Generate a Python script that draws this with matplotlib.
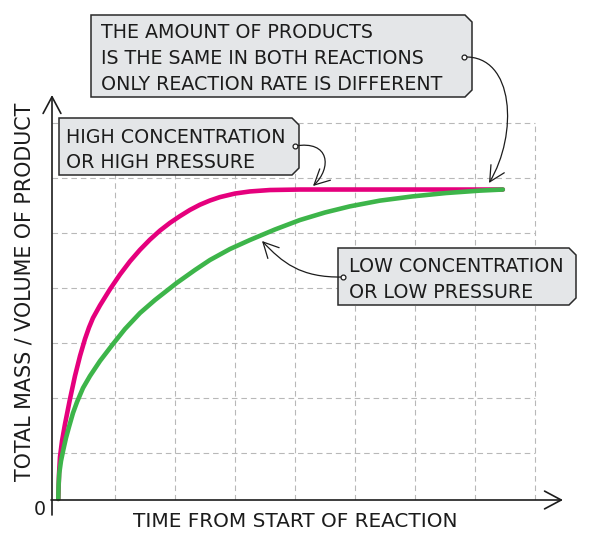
# Reaction rate sketch: product formed over time, high vs low concentration/pressure.
import matplotlib
matplotlib.use("Agg")
import matplotlib.pyplot as plt
import matplotlib.transforms as mtransforms
from matplotlib.lines import Line2D
from matplotlib.patches import Polygon, FancyArrowPatch
from matplotlib.path import Path

W, H = 593, 533

# grid lines, in grid units
time_grid = [1, 2, 3, 4, 5, 6, 7, 8]
mass_grid = [1, 2, 3, 4, 5, 6, 7]

# curves (grid units)
high_t = [0.055, 0.067, 0.083, 0.117, 0.167, 0.25, 0.333, 0.417, 0.5, 0.567,
          0.633, 0.75, 0.917, 1.083, 1.25, 1.417, 1.583, 1.75, 1.917, 2.083,
          2.25, 2.417, 2.583, 2.75, 3.0, 3.25, 3.583, 4.083, 7.467]
high_m = [0.164, 0.618, 0.927, 1.218, 1.527, 1.982, 2.4, 2.764, 3.073, 3.282,
          3.455, 3.684, 3.978, 4.245, 4.485, 4.695, 4.88, 5.044, 5.185, 5.307,
          5.42, 5.515, 5.591, 5.653, 5.718, 5.756, 5.782, 5.791, 5.791]
low_t = [0.055, 0.06, 0.072, 0.1, 0.138, 0.183, 0.233, 0.3, 0.367, 0.467,
         0.583, 0.75, 0.967, 1.167, 1.417, 1.667, 2.028, 2.333, 2.583, 2.917,
         3.25, 3.667, 4.083, 4.5, 4.917, 5.417, 5.967, 6.517, 7.083, 7.467]
low_m = [0.164, 0.418, 0.636, 0.855, 1.055, 1.273, 1.473, 1.727, 1.927, 2.182,
         2.4, 2.673, 2.982, 3.255, 3.545, 3.782, 4.091, 4.327, 4.509, 4.709,
         4.873, 5.064, 5.236, 5.373, 5.485, 5.589, 5.667, 5.727, 5.771, 5.791]

x_label = "TIME FROM START OF REACTION"
y_label = "TOTAL MASS / VOLUME OF PRODUCT"
note_same = ["THE AMOUNT OF PRODUCTS", "IS THE SAME IN BOTH REACTIONS",
             "ONLY REACTION RATE IS DIFFERENT"]
note_high = ["HIGH CONCENTRATION", "OR HIGH PRESSURE"]
note_low = ["LOW CONCENTRATION", "OR LOW PRESSURE"]

PINK = "#e5007d"
GREEN = "#3db54a"
INK = "#1c1c1c"
BOX_FILL = "#e4e6e8"
GRID = "#b8b8b8"
FS = 13.7

fig = plt.figure(figsize=(W / 100, H / 100), dpi=100)
ax = fig.add_axes([52 / W, (H - 500) / H, (563 - 52) / W, (500 - 95) / H])
ax.set_xlim(-0.05, 8.47)
ax.set_ylim(0.145, 7.51)
ax.axis("off")

# pixel coords, origin top-left of the picture
PX = mtransforms.Affine2D().scale(1 / W, -1 / H).translate(0, 1) + fig.transFigure

ax.hlines(mass_grid, -0.05, time_grid[-1], color=GRID, lw=0.8, linestyles=(0, (5, 3.5)))
ax.vlines(time_grid, 0.145, mass_grid[-1], color=GRID, lw=0.8, linestyles=(0, (5, 3.5)))

ax.plot(high_t, high_m, color=PINK, lw=3.3, solid_capstyle="round",
        solid_joinstyle="round", clip_on=False, zorder=3)
ax.plot(low_t, low_m, color=GREEN, lw=3.3, solid_capstyle="round",
        solid_joinstyle="round", clip_on=False, zorder=4)

# axes with open arrow heads
axis_style = "->,head_length=0.6,head_width=0.32"
for a, b in [((52, 515), (52, 95)), ((51, 500), (563, 500))]:
    fig.patches.append(FancyArrowPatch(a, b, arrowstyle=axis_style, mutation_scale=20,
                                       lw=1.2, color=INK, shrinkA=0, shrinkB=0,
                                       transform=PX, zorder=6))

fig.text(40, 515, "0", transform=PX, ha="center", va="baseline", fontsize=FS, color=INK)
fig.text(295, 527, x_label, transform=PX, ha="center", va="baseline", fontsize=14.4, color=INK)
fig.text(25, 292, y_label, transform=PX, ha="center", va="center", rotation=90,
         fontsize=14.9, color=INK)


def note(x0, y0, x1, y1, lines, tx, baselines):
    c = 7
    pts = [(x0, y0), (x1 - c, y0), (x1, y0 + c), (x1, y1 - c), (x1 - c, y1), (x0, y1)]
    fig.patches.append(Polygon(pts, closed=True, transform=PX, fc=BOX_FILL,
                               ec="#2a2a2a", lw=1.1, zorder=7))
    for s, b in zip(lines, baselines):
        fig.text(tx, b, s, transform=PX, ha="left", va="baseline",
                 fontsize=FS, color=INK, zorder=8)


def pointer(verts):
    codes = [Path.MOVETO] + [Path.CURVE4] * 3
    fig.patches.append(FancyArrowPatch(path=Path(verts, codes),
                                       arrowstyle="->,head_length=0.55,head_width=0.28",
                                       mutation_scale=20, lw=0.9, color=INK,
                                       transform=PX, zorder=9))
    fig.add_artist(Line2D([verts[0][0]], [verts[0][1]], marker="o", ms=3.5,
                          mfc="white", mec=INK, mew=0.9, transform=PX, zorder=10))


note(91, 15, 472, 97, note_same, 101, [38, 64, 90])
note(59, 118, 299, 175, note_high, 66, [143, 168])
note(338, 248, 576, 305, note_low, 349, [272, 298])

pointer([(464, 57), (515, 55), (518, 135), (489, 183)])
pointer([(295, 146), (330, 140), (332, 168), (313, 186)])
pointer([(343, 277), (300, 278), (282, 262), (262, 241)])

fig.savefig("out.png", dpi=100)
